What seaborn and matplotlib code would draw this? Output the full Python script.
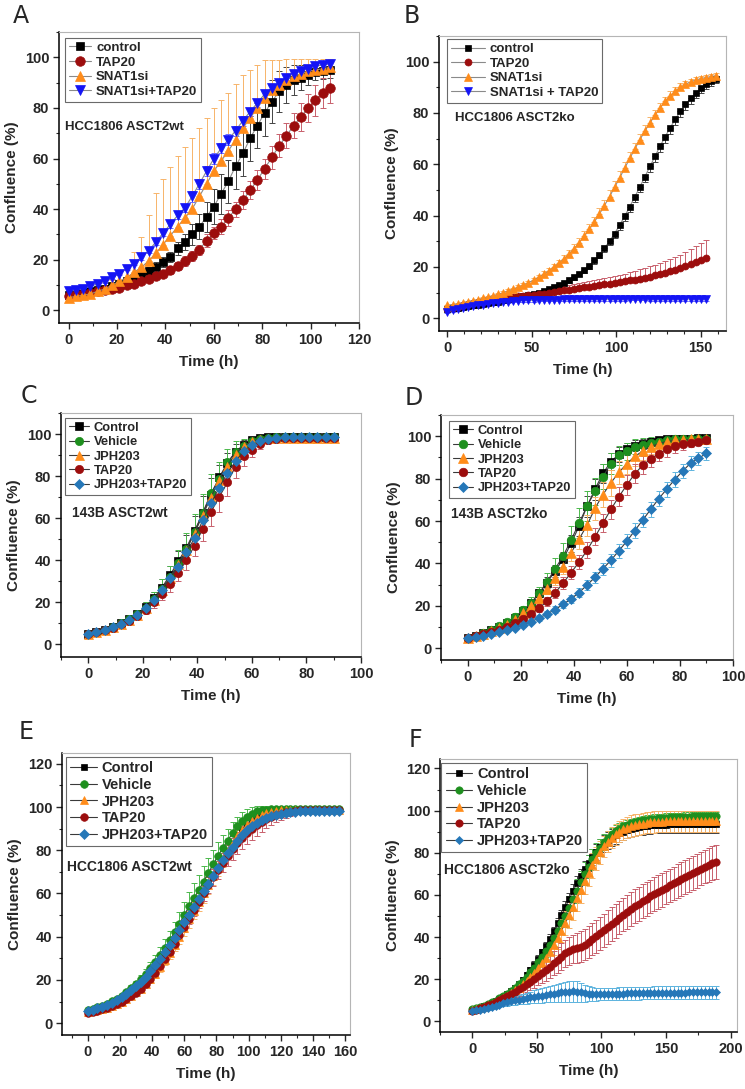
import numpy as np
import matplotlib.pyplot as plt
import seaborn as sns
from matplotlib.ticker import MultipleLocator

# ---------------- data ----------------
# A: HCC1806 ASCT2wt, SNAT1 knockdown
tA = np.arange(0, 109, 3)
a_control = [6, 6.5, 7, 7.5, 8, 8.5, 9.5, 10.5, 11.5, 12.5, 14, 15.5, 17, 19, 21, 24.5, 27, 30, 33, 37,
             41, 46, 51, 57, 62, 68, 73, 78, 82.5, 86.5, 89, 91, 92, 93, 94, 94.5, 95]
a_control_err = [1, 1, 1, 1, 1, 1, 1, 1, 1, 1, 1.5, 1.5, 2, 2, 2, 2.5, 3, 4, 5, 6,
                 7, 8, 8.5, 9, 9, 9, 9, 9, 8.5, 8, 7, 6, 5, 4, 3, 3, 3]
a_tap = [5.5, 6, 6.5, 7, 7.5, 8, 8.5, 9, 10, 10.5, 11.5, 12.5, 13.5, 14.5, 16, 17.5, 19.5, 21.5, 24, 27.5,
         30.5, 33, 36.5, 40, 43.5, 47.5, 51.5, 56, 60.5, 65, 69, 73, 76.5, 80, 83, 86, 88]
a_tap_err = [1, 1, 1, 1, 1, 1, 1, 1, 1, 1, 1, 1, 1, 1, 1.5, 1.5, 2, 2, 2, 2.5,
             2.5, 3, 3, 3, 3.5, 3.5, 4, 4, 4.5, 4.5, 5, 5, 5.5, 5.5, 6, 6, 6]
a_snat = [5, 5.5, 6, 6.5, 7.5, 8.5, 10, 11.5, 13, 15, 17, 19.5, 22.5, 26, 29.5, 33, 36.5, 40, 45, 50,
          55, 59, 63, 67.5, 72, 76, 80, 84, 87, 89, 91, 92.5, 93.5, 94.5, 95, 95.5, 96]
a_snat_err = [1, 1, 1, 1, 1, 1.5, 2, 3, 5, 8, 12, 18, 24, 26, 27, 28, 28, 28, 27, 26,
              25, 24, 23, 22, 21, 19, 17, 15, 12, 10, 8.5, 7, 6, 5, 4.5, 4, 3.5]
a_combo = [7.5, 8, 8.5, 9.5, 10.5, 11.5, 13, 14.5, 16.5, 18.5, 21, 23.5, 27, 30.5, 34, 37.5, 40.5, 45, 50, 55,
           60, 64, 67.5, 71, 75, 78.5, 82, 85.5, 88, 90, 92, 93.5, 94.5, 95.5, 96.5, 97, 97.5]
a_combo_err = [0.5, 0.5, 0.5, 0.5, 0.5, 0.5, 0.5, 0.5, 0.5, 0.5, 1, 1, 1, 1, 1.5, 1.5, 1.5, 2, 2, 2,
               2, 2, 2, 2, 2, 1.5, 1.5, 1.5, 1.5, 1, 1, 1, 1, 1, 1, 1, 1]

# B: HCC1806 ASCT2ko, SNAT1 knockdown
tB = np.arange(0, 160, 3)
tB_short = np.arange(0, 154, 3)
b_control = [3.5, 3.8, 4.1, 4.4, 4.7, 5, 5.3, 5.6, 5.9, 6.2, 6.5, 6.9, 7.3, 7.7, 8.1, 8.5, 9, 9.5, 10, 10.6,
             11.2, 12, 12.8, 13.8, 14.8, 16, 17.3, 18.8, 20.5, 22.5, 24.8, 27.3, 30, 33, 36.3, 39.8, 43.5, 47.3,
             51.2, 55.2, 59.2, 63.2, 67.1, 70.8, 74.3, 77.6, 80.6, 83.3, 85.7, 87.8, 89.6, 91.1, 92.4, 93.4]
b_control_err = [0.3, 0.3, 0.3, 0.3, 0.3, 0.3, 0.3, 0.3, 0.3, 0.3, 0.4, 0.4, 0.4, 0.4, 0.5, 0.5, 0.5, 0.5, 0.6, 0.6,
                 0.7, 0.7, 0.8, 0.8, 0.9, 1, 1, 1.1, 1.2, 1.3, 1.4, 1.5, 1.6, 1.7, 1.8, 1.9, 2, 2.1, 2.2, 2.3,
                 2.4, 2.5, 2.5, 2.5, 2.5, 2.4, 2.3, 2.2, 2.1, 2, 1.9, 1.8, 1.7, 1.6]
b_tap = [3.5, 4, 4.5, 5, 5.5, 5.9, 6.3, 6.7, 7, 7.3, 7.6, 7.9, 8.1, 8.3, 8.5, 8.7, 8.9, 9.1, 9.3, 9.6,
         9.9, 10.2, 10.5, 10.8, 11.1, 11.4, 11.7, 12, 12.3, 12.6, 12.9, 13.2, 13.5, 13.8, 14.1, 14.4, 14.7, 15,
         15.4, 15.8, 16.2, 16.7, 17.2, 17.7, 18.3, 18.9, 19.6, 20.3, 21.1, 21.9, 22.7, 23.5]
b_tap_err = [0.4, 0.4, 0.4, 0.5, 0.5, 0.5, 0.6, 0.6, 0.6, 0.7, 0.7, 0.8, 0.8, 0.9, 0.9, 1, 1, 1.1, 1.2, 1.3,
             1.4, 1.5, 1.6, 1.7, 1.8, 1.9, 2, 2.1, 2.2, 2.3, 2.4, 2.5, 2.6, 2.7, 2.8, 3, 3.2, 3.4, 3.6, 3.8,
             4, 4.2, 4.4, 4.6, 4.8, 5, 5.2, 5.5, 5.8, 6.2, 6.6, 7]
b_snat = [5, 5.3, 5.6, 6, 6.4, 6.8, 7.2, 7.7, 8.2, 8.7, 9.3, 9.9, 10.6, 11.3, 12.1, 12.9, 13.8, 14.8, 15.9, 17.1,
          18.4, 19.8, 21.4, 23.1, 25, 27.1, 29.4, 31.9, 34.6, 37.5, 40.6, 43.9, 47.4, 51, 54.7, 58.5, 62.3, 66,
          69.6, 73, 76.2, 79.2, 82, 84.5, 86.7, 88.5, 90, 91.2, 92.1, 92.8, 93.4, 93.8, 94.2, 94.5]
b_snat_err = [0.3, 0.3, 0.3, 0.3, 0.3, 0.4, 0.4, 0.4, 0.4, 0.5, 0.5, 0.5, 0.6, 0.6, 0.7, 0.7, 0.8, 0.9, 1, 1.1,
              1.2, 1.3, 1.4, 1.5, 1.6, 1.7, 1.8, 1.9, 2, 2.1, 2.2, 2.3, 2.4, 2.5, 2.5, 2.5, 2.5, 2.4, 2.3, 2.2,
              2.1, 2, 1.9, 1.8, 1.7, 1.6, 1.5, 1.4, 1.3, 1.2, 1.1, 1, 1, 1]
b_combo = [2.5, 3, 3.4, 3.8, 4.2, 4.6, 5, 5.3, 5.6, 5.9, 6.1, 6.3, 6.5, 6.7, 6.8, 6.9, 7, 7, 7.1, 7.1,
           7.2, 7.2, 7.2, 7.3, 7.3, 7.3, 7.3, 7.4, 7.4, 7.4, 7.4, 7.4, 7.4, 7.4, 7.4, 7.4, 7.5, 7.5, 7.5, 7.5,
           7.5, 7.5, 7.5, 7.5, 7.5, 7.5, 7.5, 7.5, 7.5, 7.5, 7.5, 7.5]
b_combo_err = [0.5, 0.5, 0.5, 0.5, 0.5, 0.5, 0.5, 0.5, 0.5, 0.5, 0.5, 0.5, 0.5, 0.5, 0.5, 0.5, 0.5, 0.5, 0.5, 0.5,
               0.6, 0.6, 0.6, 0.6, 0.6, 0.6, 0.6, 0.6, 0.6, 0.6, 0.6, 0.6, 0.6, 0.6, 0.6, 0.6, 0.6, 0.6, 0.6, 0.6,
               0.7, 0.7, 0.7, 0.7, 0.7, 0.7, 0.7, 0.7, 0.7, 0.7, 0.7, 0.7]

# C: 143B ASCT2wt and D: 143B ASCT2ko
tCD = np.arange(0, 91, 3)
c_control = [5, 6, 7, 8.5, 10, 12, 14.5, 18, 22, 27, 33, 39.5, 46, 54, 62.5, 71, 79.5, 86, 91.5, 95,
             97, 98, 98.5, 98.5, 98.5, 98.5, 98.5, 98.5, 98.5, 98.5, 98.5]
c_control_err = [0.5, 0.5, 0.5, 0.6, 0.8, 1, 1.5, 2, 3, 4, 4.5, 5, 6, 7, 8, 8, 6, 5, 4, 2,
                 1, 0.5, 0.5, 0.5, 0.5, 0.5, 0.5, 0.5, 0.5, 0.5, 0.5]
c_vehicle = [5, 6, 7, 8.5, 10, 12, 14.5, 17.5, 21.5, 26.5, 32, 38.5, 45.5, 53.5, 62.5, 72, 78.5, 86.5, 91.5, 94.5,
             96.5, 97.5, 98, 98.5, 98.5, 98.5, 98.5, 98.5, 98.5, 98.5, 98.5]
c_vehicle_err = [0.5, 0.5, 0.5, 0.6, 0.8, 1, 1.5, 2.5, 3.5, 4.5, 5.5, 6.5, 7.5, 8.5, 9, 9, 8, 6.5, 5, 3,
                 1.5, 1, 0.5, 0.5, 0.5, 0.5, 0.5, 0.5, 0.5, 0.5, 0.5]
c_jph = [4.8, 5.8, 6.8, 8.2, 9.7, 11.7, 14, 17.3, 21, 26, 31.5, 38, 45, 53, 61.5, 70, 78, 85, 90.5, 94.5,
         96.5, 97.5, 98, 98.3, 98.3, 98.3, 98.3, 98.3, 98.3, 98.3, 98.3]
c_jph_err = [0.4, 0.4, 0.5, 0.5, 0.6, 0.7, 0.8, 1, 1.2, 1.4, 1.6, 1.8, 2, 2.2, 2.4, 2.4, 2.2, 2, 1.6, 1.2,
             0.8, 0.6, 0.5, 0.5, 0.5, 0.5, 0.5, 0.5, 0.5, 0.5, 0.5]
c_tap = [5, 5.8, 6.8, 8, 9.5, 11.3, 13.5, 16.5, 20, 24, 28.5, 34, 40, 47, 55, 63, 70, 77, 84.5, 89.5,
         92.5, 95.5, 97, 97.8, 98.3, 98.3, 98.3, 98.3, 98.3, 98.3, 98.3]
c_tap_err = [0.5, 0.5, 0.6, 0.8, 1, 1.2, 1.5, 2, 2.5, 3, 3.5, 4, 4.5, 5, 6, 6.5, 7, 6.5, 5.5, 4.5,
             3.5, 2.5, 1.5, 1, 0.5, 0.5, 0.5, 0.5, 0.5, 0.5, 0.5]
c_combo = [5, 6, 7, 8.3, 9.8, 11.8, 14, 17.5, 21, 26, 31.5, 37, 44, 50.5, 59, 67, 74.5, 81.5, 87, 92,
           95, 96.5, 97.5, 98, 98.5, 98.5, 98.5, 98.5, 98.5, 98.5, 98.5]
c_combo_err = [0.5, 0.5, 0.5, 0.6, 0.8, 1, 1.2, 1.5, 1.8, 2, 2.3, 2.5, 2.8, 3, 3, 3, 2.8, 2.5, 2, 1.5,
               1, 0.8, 0.6, 0.5, 0.5, 0.5, 0.5, 0.5, 0.5, 0.5, 0.5]

d_control = [5, 6, 7, 8.5, 10, 12, 14.5, 17.5, 21.5, 26, 31, 36.5, 42, 49.5, 57.5, 67, 75, 82.5, 88, 91.5,
             94, 95.5, 96.5, 97.5, 98, 98.5, 98.5, 98.5, 98.5, 99, 99]
d_control_err = [0.3, 0.4, 0.5, 0.6, 0.8, 1, 1.2, 1.5, 1.8, 2, 2.5, 3, 3.5, 4, 4.5, 5, 5, 4.5, 4, 3.5,
                 3, 2.5, 2, 1.5, 1.2, 1, 0.8, 0.6, 0.5, 0.5, 0.5]
d_vehicle = [5, 6, 7, 8.7, 10.5, 12.5, 15, 18, 21.5, 26, 31.5, 37.5, 43.5, 51, 59, 67, 74, 81, 87, 91,
             93, 95, 96, 97, 97.5, 98, 98.5, 98.5, 98.5, 98.5, 98.5]
d_vehicle_err = [0.3, 0.4, 0.5, 0.7, 0.9, 1.2, 1.5, 2, 2.5, 3, 4, 5, 6, 6.5, 7, 7, 6.5, 6, 5, 4.5,
                 4, 3.5, 3, 2.5, 2, 1.5, 1, 0.8, 0.6, 0.5, 0.5]
d_jph = [5, 5.8, 6.8, 8, 9.5, 11.2, 13.5, 16.5, 20, 23.5, 28, 33, 38.5, 45, 51.5, 58, 66, 72.5, 78, 83,
         87, 90.5, 93, 95, 96.5, 97.5, 98, 98, 98.5, 98.5, 98.5]
d_jph_err = [0.3, 0.4, 0.5, 0.6, 0.8, 1, 1.2, 1.5, 1.8, 2, 2.5, 3, 3.5, 4, 4.5, 5, 5.5, 6, 6, 5.5,
             5, 4.5, 4, 3.5, 3, 2.5, 2, 1.5, 1, 0.8, 0.6]
d_tap = [5, 5.8, 6.6, 7.6, 8.8, 10.2, 12, 14, 16.3, 19, 22.2, 26.2, 30.7, 35.7, 40.6, 46.2, 52.5, 59, 65.5, 71.5,
         77, 82.3, 86.3, 89.3, 91.8, 93.8, 95.3, 96.3, 97, 97.5, 98]
d_tap_err = [0.3, 0.4, 0.5, 0.6, 0.7, 0.9, 1.1, 1.3, 1.6, 1.9, 2.2, 2.5, 2.8, 3.1, 3.4, 3.7, 4, 4.2, 4.4, 4.5,
             4.5, 4.4, 4.2, 4, 3.7, 3.4, 3, 2.6, 2.2, 1.8, 1.5]
d_combo = [5, 5.5, 6, 6.8, 7.6, 8.6, 9.7, 11, 12.6, 14.3, 16.2, 18.3, 20.7, 23.3, 26.3, 29.8, 33.5, 37.5, 41.5, 46,
           50.5, 55.5, 60.5, 65.5, 70.5, 75, 79.5, 83.5, 87.3, 89.5, 92]
d_combo_err = [0.3, 0.3, 0.4, 0.5, 0.6, 0.7, 0.8, 0.9, 1, 1.2, 1.4, 1.6, 1.8, 2, 2.2, 2.4, 2.6, 2.8, 3, 3.2,
               3.4, 3.5, 3.5, 3.5, 3.5, 3.5, 3.4, 3.3, 3.2, 3.1, 3]

# E: HCC1806 ASCT2wt, JPH203 / TAP20
tE = np.arange(0, 157, 3)
e_control = [5, 5.5, 6.1, 6.8, 7.6, 8.5, 9.5, 10.7, 12, 13.5, 15.3, 17.3, 19.5, 22, 24.8, 27.8, 31, 34.5, 38, 41.7,
             45.5, 49.3, 53, 56.8, 60.5, 64.3, 68, 71.8, 75.5, 79, 82.5, 85.8, 88.8, 91.3, 93.3, 95, 96.2, 97, 97.6, 98,
             98.3, 98.5, 98.5, 98.5, 98.5, 98.5, 98.5, 98.5, 98.5, 98.5, 98.5, 98.5, 98.5]
e_control_err = [0.3, 0.3, 0.4, 0.4, 0.5, 0.5, 0.6, 0.7, 0.8, 0.9, 1, 1.1, 1.2, 1.3, 1.4, 1.5, 1.6, 1.7, 1.8, 1.9,
                 2, 2, 2, 2, 2, 2, 2, 2, 2, 2, 2, 1.9, 1.8, 1.7, 1.6, 1.5, 1.3, 1.1, 0.9, 0.7,
                 0.5, 0.5, 0.5, 0.5, 0.5, 0.5, 0.5, 0.5, 0.5, 0.5, 0.5, 0.5, 0.5]
e_vehicle = [6, 6.6, 7.3, 8.1, 9, 10.1, 11.3, 12.7, 14.3, 16.1, 18.1, 20.3, 22.8, 25.5, 28.4, 31.5, 34.8, 38.3, 42, 46,
             50, 54, 57.8, 61.5, 65.5, 69.5, 73.5, 77.5, 81, 84.5, 88, 91, 93.5, 95.5, 97, 98, 98.5, 98.8, 99, 99,
             99, 99, 99, 99, 99, 99, 99, 99, 99, 99, 99, 99, 99]
e_vehicle_err = [0.3, 0.3, 0.4, 0.5, 0.6, 0.7, 0.8, 1, 1.2, 1.4, 1.6, 1.9, 2.2, 2.6, 3, 3.5, 4, 4.5, 5, 5.5,
                 6, 6.5, 7, 7, 7, 7, 6.8, 6.5, 6, 5.5, 5, 4.5, 4, 3.5, 3, 2.5, 2, 1.5, 1.2, 1,
                 0.8, 0.6, 0.5, 0.5, 0.5, 0.5, 0.5, 0.5, 0.5, 0.5, 0.5, 0.5, 0.5]
e_jph = [5, 5.4, 5.9, 6.5, 7.2, 8, 8.9, 10, 11.2, 12.6, 14.2, 16, 18, 20.3, 22.9, 25.8, 29, 32.5, 36.2, 40,
         44, 48, 52, 56, 60, 64, 68, 72, 76, 79.8, 83.3, 86.5, 89.3, 91.7, 93.6, 95.1, 96.3, 97.1, 97.7, 98.1,
         98.4, 98.6, 98.6, 98.6, 98.6, 98.6, 98.6, 98.6, 98.6, 98.6, 98.6, 98.6, 98.6]
e_jph_err = [0.3, 0.3, 0.4, 0.4, 0.5, 0.5, 0.6, 0.7, 0.8, 0.9, 1, 1.2, 1.4, 1.6, 1.8, 2, 2.3, 2.6, 2.9, 3.2,
             3.5, 3.8, 4, 4.2, 4.3, 4.3, 4.2, 4, 3.8, 3.5, 3.2, 2.9, 2.6, 2.3, 2, 1.7, 1.4, 1.1, 0.9, 0.7,
             0.5, 0.5, 0.5, 0.5, 0.5, 0.5, 0.5, 0.5, 0.5, 0.5, 0.5, 0.5, 0.5]
e_tap = [4.8, 5.3, 5.8, 6.4, 7.1, 7.9, 8.8, 9.9, 11.1, 12.5, 14.1, 16, 18.1, 20.5, 23.2, 26.2, 29.5, 33, 36.8, 40.6,
         44.5, 48.4, 52.3, 56.2, 60, 63.8, 67.5, 71, 74.3, 77.5, 80.5, 83.3, 85.8, 88, 90, 91.8, 93.3, 94.5, 95.5, 96.3,
         97, 97.5, 97.9, 98.2, 98.4, 98.5, 98.5, 98.5, 98.5, 98.5, 98.5, 98.5, 98.5]
e_tap_err = [0.3, 0.3, 0.4, 0.4, 0.5, 0.5, 0.6, 0.7, 0.8, 0.9, 1, 1.1, 1.2, 1.3, 1.4, 1.5, 1.6, 1.8, 2, 2.2,
             2.4, 2.6, 2.8, 3, 3.3, 3.6, 3.9, 4.2, 4.5, 4.8, 5, 5.2, 5.3, 5.3, 5.2, 5, 4.7, 4.3, 3.9, 3.4,
             2.9, 2.4, 1.9, 1.5, 1.2, 1, 0.8, 0.7, 0.6, 0.5, 0.5, 0.5, 0.5]
e_combo = [5.5, 6.1, 6.8, 7.6, 8.5, 9.5, 10.7, 12, 13.5, 15.2, 17.1, 19.2, 21.5, 24, 26.7, 29.6, 32.7, 36, 39.5, 43,
           46.6, 50.2, 53.8, 57.4, 61, 64.6, 68.2, 71.8, 75.3, 78.6, 81.7, 84.5, 87, 89.2, 91.1, 92.7, 94, 95, 95.8,
           96.4, 96.9, 97.3, 97.6, 97.8, 98, 98, 98, 98, 98, 98, 98, 98, 98]
e_combo_err = [0.5, 0.5, 0.5, 0.6, 0.6, 0.7, 0.7, 0.8, 0.9, 1, 1.1, 1.2, 1.3, 1.4, 1.5, 1.6, 1.7, 1.8, 1.9, 2,
               2, 2, 2, 2, 2, 2, 2, 2, 2, 2, 2, 2, 1.9, 1.8, 1.7, 1.6, 1.5, 1.4, 1.3, 1.2,
               1.1, 1, 1, 1, 1, 1, 1, 1, 1, 1, 1, 1, 1]

# F: HCC1806 ASCT2ko, JPH203 / TAP20
tF = np.arange(0, 190, 3)
f_control = [5.5, 6, 6.5, 7.1, 7.8, 8.6, 9.5, 10.5, 11.7, 13, 14.4, 16, 17.8, 19.8, 22, 24.4, 27, 29.8, 32.8, 36,
             39.3, 42.8, 46.5, 50.3, 54.2, 58, 61.8, 65.5, 69, 72.3, 75.3, 78, 80.5, 82.6, 84.4, 86, 87.3, 88.4, 89.3,
             90.1, 90.8, 91.4, 91.9, 92.3, 92.6, 92.9, 93.1, 93.2, 93.3, 93.4, 93.4, 93.5, 93.5, 93.5, 93.5, 93.6,
             93.6, 93.6, 93.6, 93.6, 93.6, 93.6, 93.6, 93.6]
f_control_err = [0.3, 0.3, 0.4, 0.4, 0.5, 0.5, 0.6, 0.6, 0.7, 0.8, 0.9, 1, 1.1, 1.2, 1.3, 1.4, 1.5, 1.6, 1.7, 1.8,
                 2, 2.2, 2.4, 2.6, 2.8, 3, 3.2, 3.4, 3.5, 3.6, 3.7, 3.8, 3.9, 4, 4, 4, 4, 4, 4, 4,
                 4, 4, 4, 4, 4, 4, 4, 4, 4, 4, 4, 4, 4, 4, 4, 4, 4, 4, 4, 4, 4, 4, 4, 4]
f_vehicle = [6, 6.4, 6.9, 7.5, 8.2, 9, 9.9, 10.9, 12, 13.2, 14.5, 16, 17.6, 19.4, 21.3, 23.3, 25.5, 28, 30.7, 33.5,
             36.5, 39.5, 43, 46.5, 50, 54, 58, 62, 66, 70, 73.5, 77, 80, 82.5, 85, 87, 88.8, 90.3, 91.5, 92.5,
             93.3, 94, 94.5, 95, 95.4, 95.7, 96, 96.2, 96.4, 96.6, 96.7, 96.8, 96.9, 97, 97.1, 97.2, 97.2, 97.3,
             97.3, 97.4, 97.4, 97.5, 97.5, 97.5]
f_vehicle_err = [0.3, 0.3, 0.4, 0.4, 0.5, 0.5, 0.6, 0.7, 0.8, 0.9, 1, 1.1, 1.2, 1.4, 1.6, 1.8, 2, 2.3, 2.6, 3,
                 3.4, 3.8, 4.2, 4.6, 5, 5.3, 5.5, 5.6, 5.6, 5.5, 5.3, 5, 4.6, 4.2, 3.8, 3.4, 3, 2.7, 2.5, 2.3,
                 2.2, 2.1, 2, 2, 2, 2, 2, 2, 2, 2, 2, 2, 2, 2, 2, 2, 2, 2, 2, 2, 2, 2, 2, 2]
f_jph = [5.5, 6, 6.5, 7, 7.7, 8.4, 9.2, 10.1, 11.1, 12.2, 13.4, 14.7, 16.1, 17.6, 19.3, 21.1, 23.1, 25.3, 27.7, 30.3,
         33.1, 36.2, 39.5, 43, 46.7, 50.5, 54.5, 58.5, 62.5, 66.5, 70.3, 74, 77.3, 80.3, 83, 85.2, 87.2, 88.8, 90.1,
         91.2, 92, 92.7, 93.2, 93.6, 93.9, 94.2, 94.4, 94.6, 94.7, 94.8, 94.9, 95, 95, 95, 95, 95, 95, 95, 95, 95,
         95, 95, 95, 95]
f_jph_err = [0.3, 0.3, 0.4, 0.4, 0.5, 0.6, 0.7, 0.8, 0.9, 1, 1.2, 1.4, 1.6, 1.8, 2, 2.3, 2.6, 3, 3.4, 3.8,
             4.2, 4.6, 5, 5.4, 5.8, 6, 6.2, 6.3, 6.3, 6.2, 6, 5.8, 5.6, 5.4, 5.2, 5, 5, 5, 5, 5,
             5, 5, 5, 5, 5, 5, 5, 5, 5, 5, 5, 5, 5, 5, 5, 5, 5, 5, 5, 5, 5, 5, 5, 5]
f_tap = [5, 5.6, 6.2, 6.9, 7.6, 8.4, 9.2, 10.1, 11, 12, 13, 14.1, 15.3, 16.5, 17.7, 18.9, 20.2, 21.6, 23, 24.5,
         26, 27.6, 29.2, 30.8, 32.3, 33.5, 34.3, 34.8, 35.5, 36.5, 37.7, 39, 40.4, 41.8, 43.3, 44.8, 46.3, 47.8,
         49.3, 50.7, 52, 53.3, 54.6, 55.8, 57, 58.2, 59.3, 60.4, 61.5, 62.5, 63.5, 64.5, 65.5, 66.5, 67.5, 68.5,
         69.5, 70.5, 71.5, 72.5, 73.5, 74.3, 75, 75.8]
f_tap_err = [0.3, 0.4, 0.5, 0.6, 0.8, 1, 1.2, 1.5, 1.8, 2.1, 2.4, 2.7, 3, 3.3, 3.6, 3.9, 4.2, 4.5, 4.8, 5.1,
             5.4, 5.7, 6, 6.2, 6.4, 6.6, 6.8, 7, 7.2, 7.4, 7.5, 7.6, 7.7, 7.8, 7.9, 8, 8, 8, 8, 8,
             8, 8, 8, 8, 8, 8, 8, 8, 8, 8, 8, 8, 8, 8, 8, 8, 8, 8, 8, 8, 8, 8, 8, 8]
f_combo = [5, 5.2, 5.5, 5.8, 6.2, 6.8, 7.4, 8, 8.6, 9.1, 9.6, 10, 10.4, 10.8, 11.1, 11.4, 11.7, 12, 12.3, 12.6,
           12.9, 13.2, 13.5, 13.8, 14, 14.2, 14.3, 14.2, 13.8, 13.4, 13.2, 13.1, 13, 13, 13, 13, 13.1, 13.1, 13.2,
           13.2, 13.3, 13.3, 13.4, 13.4, 13.5, 13.5, 13.5, 13.6, 13.6, 13.6, 13.6, 13.7, 13.7, 13.7, 13.7, 13.7,
           13.8, 13.8, 13.8, 13.8, 13.8, 13.8, 13.8, 13.8]
f_combo_err = [0.3, 0.4, 0.5, 0.6, 0.7, 0.8, 1, 1.2, 1.4, 1.6, 1.8, 2, 2.2, 2.4, 2.6, 2.8, 3, 3.2, 3.4, 3.6,
               3.8, 4, 4.2, 4.4, 4.6, 4.8, 5, 4.8, 4.4, 4, 3.6, 3.3, 3.1, 3, 3, 3, 3, 3, 3, 3,
               3, 3, 3, 3, 3, 3, 3, 3, 3, 3, 3, 3, 3, 3, 3, 3, 3, 3, 3, 3, 3, 3, 3, 3]

# ---------------- style ----------------
BLACK, RED, ORANGE = "#000000", "#9c0d0d", "#ff8c1a"
BLUE, GREEN, STEEL = "#1414f5", "#1e8f1e", "#2577b8"
ERRC = {BLACK: "#444444", RED: "#c8606c", ORANGE: "#f7b46a", BLUE: "#6b6bff",
        GREEN: "#4cb84c", STEEL: "#5fb4de"}

sns.set_style("ticks")
plt.rcParams["font.family"] = ["Liberation Sans", "DejaVu Sans"]
plt.rcParams["font.weight"] = "bold"
plt.rcParams["axes.labelweight"] = "bold"

W, H = 745, 1089
fig = plt.figure(figsize=(W / 100, H / 100), dpi=100)


def box(l, t, r, b):
    return [l / W, 1 - b / H, (r - l) / W, (b - t) / H]


def panel(rect, letter, letter_xy, curves, note, note_xy, xlim, ylim, xmaj, xmin, ytop,
          leg_xy, leg_fs, note_fs, ms, lcol, hlen=1.5):
    ax = fig.add_axes(box(*rect))
    for label, t, y, err, side, mk, col, msz in curves:
        e = np.asarray(err, float)
        z = np.zeros_like(e)
        lo = e if side in ("both", "down") else z
        hi = e if side in ("both", "up") else z
        ax.errorbar(t, y, yerr=[lo, hi], fmt="none", ecolor=ERRC[col], elinewidth=0.7,
                    capsize=2, capthick=0.7, zorder=1)
        sns.lineplot(x=t, y=y, ax=ax, color=lcol, linewidth=0.8, marker=mk,
                     markersize=ms * msz, markerfacecolor=col, markeredgecolor=col,
                     markeredgewidth=0.5, label=label, errorbar=None, zorder=2)
    ax.set_xlim(*xlim)
    ax.set_ylim(*ylim)
    ax.set_xticks(np.arange(0, xlim[1] + 0.1, xmaj))
    ax.xaxis.set_minor_locator(MultipleLocator(xmin))
    ax.set_yticks(np.arange(0, ytop + 1, 20))
    ax.yaxis.set_minor_locator(MultipleLocator(10))
    ax.tick_params(which="major", direction="out", length=4, width=1, labelsize=10.5, pad=3)
    ax.tick_params(which="minor", direction="out", length=2.5, width=0.8)
    for s in ("left", "bottom"):
        ax.spines[s].set_linewidth(1.1)
        ax.spines[s].set_color("black")
    for s in ("top", "right"):
        ax.spines[s].set_linewidth(0.8)
        ax.spines[s].set_color("#b5b5b5")
    ax.set_xlabel("Time (h)", fontsize=11, labelpad=6)
    ax.set_ylabel("Confluence (%)", fontsize=11, labelpad=4)
    leg = ax.legend(loc="upper left", bbox_to_anchor=leg_xy, borderaxespad=0, fontsize=leg_fs,
                    frameon=True, fancybox=False, framealpha=1, edgecolor="#6a6a6a",
                    handlelength=hlen, handletextpad=0.35, borderpad=0.3, labelspacing=0.18)
    leg.get_frame().set_linewidth(0.8)
    ax.text(note_xy[0], note_xy[1], note, transform=ax.transAxes, fontsize=note_fs,
            fontweight="bold", va="center", ha="left")
    fig.text(letter_xy[0] / W, 1 - letter_xy[1] / H, letter, fontsize=17, fontweight="normal",
             family="DejaVu Sans", va="top", ha="left")
    return ax


LG = "#8a8a8a"
LD = "#3a3a3a"

panel((59, 32, 359, 323), "A", (13, 4),
      [("control", tA, a_control, a_control_err, "both", "s", BLACK, 1.0),
       ("TAP20", tA, a_tap, a_tap_err, "both", "o", RED, 1.15),
       ("SNAT1si", tA, a_snat, a_snat_err, "up", "^", ORANGE, 1.3),
       ("SNAT1si+TAP20", tA, a_combo, a_combo_err, "both", "v", BLUE, 1.3)],
      "HCC1806 ASCT2wt", (0.02, 0.674), (-4, 120), (-5, 110), 20, 10, 100,
      (0.02, 0.98), 9.5, 9.5, 6.0, LG, 1.7)

panel((439, 36, 726, 331), "B", (404, 4),
      [("control", tB, b_control, b_control_err, "down", "s", BLACK, 1.0),
       ("TAP20", tB_short, b_tap, b_tap_err, "up", "o", RED, 1.1),
       ("SNAT1si", tB, b_snat, b_snat_err, "up", "^", ORANGE, 1.25),
       ("SNAT1si + TAP20", tB_short, b_combo, b_combo_err, "both", "v", BLUE, 1.25)],
      "HCC1806 ASCT2ko", (0.056, 0.722), (-5, 165), (-5, 110), 50, 10, 100,
      (0.028, 0.99), 9.5, 9.5, 4.6, LG, 2.6)

five = ["Control", "Vehicle", "JPH203", "TAP20", "JPH203+TAP20"]

panel((61, 413, 361, 657), "C", (21, 384),
      [(five[0], tCD, c_control, c_control_err, "up", "s", BLACK, 1.0),
       (five[1], tCD, c_vehicle, c_vehicle_err, "up", "o", GREEN, 1.1),
       (five[2], tCD, c_jph, c_jph_err, "both", "^", ORANGE, 1.2),
       (five[3], tCD, c_tap, c_tap_err, "down", "o", RED, 1.1),
       (five[4], tCD, c_combo, c_combo_err, "both", "D", STEEL, 0.95)],
      "143B ASCT2wt", (0.037, 0.59), (-10, 100), (-6, 110), 20, 10, 100,
      (0.013, 0.98), 9.3, 9.8, 5.4, LD, 1.6)

panel((441, 415, 733, 660), "D", (405, 386),
      [(five[0], tCD, d_control, d_control_err, "both", "s", BLACK, 1.0),
       (five[1], tCD, d_vehicle, d_vehicle_err, "both", "o", GREEN, 1.1),
       (five[2], tCD, d_jph, d_jph_err, "both", "^", ORANGE, 1.2),
       (five[3], tCD, d_tap, d_tap_err, "both", "o", RED, 1.1),
       (five[4], tCD, d_combo, d_combo_err, "both", "D", STEEL, 0.95)],
      "143B ASCT2ko", (0.034, 0.596), (-10, 100), (-5.5, 110), 20, 10, 100,
      (0.027, 0.976), 9.3, 9.8, 5.6, LD, 1.6)

panel((62, 753, 350, 1035), "E", (19, 720),
      [(five[0], tE, e_control, e_control_err, "both", "s", BLACK, 1.0),
       (five[1], tE, e_vehicle, e_vehicle_err, "both", "o", GREEN, 1.1),
       (five[2], tE, e_jph, e_jph_err, "both", "^", ORANGE, 1.2),
       (five[3], tE, e_tap, e_tap_err, "both", "o", RED, 1.1),
       (five[4], tE, e_combo, e_combo_err, "both", "D", STEEL, 0.95)],
      "HCC1806 ASCT2wt", (0.017, 0.596), (-16, 163), (-5.5, 125), 20, 10, 120,
      (0.014, 0.986), 10.5, 10, 5.0, LD, 1.8)

panel((440, 759, 737, 1032), "F", (409, 728),
      [(five[0], tF, f_control, f_control_err, "both", "s", BLACK, 1.0),
       (five[1], tF, f_vehicle, f_vehicle_err, "both", "o", GREEN, 1.1),
       (five[2], tF, f_jph, f_jph_err, "both", "^", ORANGE, 1.2),
       (five[3], tF, f_tap, f_tap_err, "both", "o", RED, 1.1),
       (five[4], tF, f_combo, f_combo_err, "both", "D", STEEL, 0.95)],
      "HCC1806 ASCT2ko", (0.012, 0.593), (-25, 205), (-5, 124.5), 50, 25, 120,
      (0.004, 0.985), 10.5, 10, 4.8, LD, 1.8)

fig.savefig("out.png", dpi=100)
